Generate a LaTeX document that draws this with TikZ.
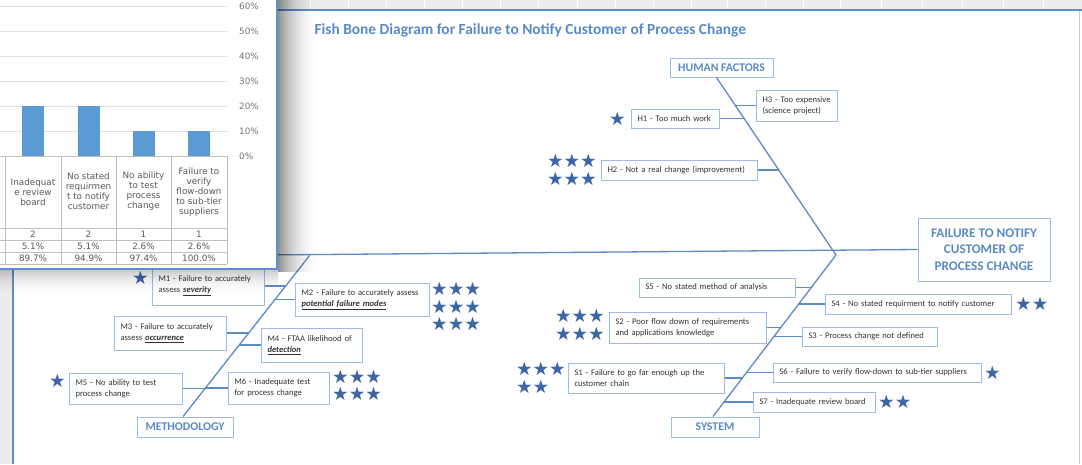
\documentclass[tikz,border=0pt]{standalone}
\usepackage{fontspec}
\setmainfont{Carlito}
\newfontfamily\chartfont{DejaVu Sans}
\newfontfamily\starfont{DejaVu Sans}
\usetikzlibrary{positioning}

\definecolor{boneblue}{HTML}{5B8BC9}
\definecolor{boxblue}{HTML}{9DBCE3}
\definecolor{labelblue}{HTML}{5A8AC6}
\definecolor{starblue}{HTML}{3D66A3}
\definecolor{txtgray}{HTML}{333333}
\definecolor{barblue}{HTML}{5B9BD5}
\definecolor{chartgray}{HTML}{595959}
\definecolor{sheetblue}{HTML}{5F8DCB}

\tikzstyle{cause} = [rectangle, draw=boxblue, line width=1pt, fill=white, inner xsep=6pt, inner ysep=2pt, align=left, text=txtgray, font=\fontsize{8.6}{11}\selectfont]
\tikzstyle{bonehead} = [rectangle, draw=boxblue, line width=1pt, fill=white, text=labelblue, font=\fontsize{11.8}{13}\selectfont\bfseries]
\tikzstyle{bone} = [draw=boneblue, line width=1.3pt]
\tikzstyle{twig} = [draw=boneblue, line width=1.1pt]
\tikzstyle{stars} = [inner sep=0pt, text=starblue, font=\starfont\fontsize{18.5}{17.5}\selectfont]
\tikzstyle{chartlbl} = [inner sep=0pt, text=chartgray, align=center, font=\chartfont\fontsize{8.8}{10}\selectfont]

\begin{document}
\begin{tikzpicture}[x=1pt, y=-1pt]
\useasboundingbox (0,0) rectangle (1082,464);
\fill[white] (0,0) rectangle (1082,464);

% Sheet frame
\fill[black!7] (278,0) rectangle (1082,9);
\foreach \x in {310,348,386,424,462,500,538,577,615,653,691,727,765,803,840,881,922,962,1003,1043}
  \draw[white, line width=0.8pt] (\x,0) -- (\x,8);
\draw[sheetblue, line width=2pt] (278,10) -- (1082,10);
\fill[black!8] (0,270) rectangle (13,464);
\draw[sheetblue, line width=1.5pt] (13,270) -- (13,464);
\draw[black!20, line width=0.8pt] (1079,11) -- (1079,464);

\node (title) [anchor=west, text=labelblue, font=\fontsize{15.4}{17}\selectfont\bfseries] at (311,30) {Fish Bone Diagram for Failure to Notify Customer of Process Change};

% Head and spine
\node (head) [bonehead, minimum width=132pt, minimum height=63pt, align=center, font=\fontsize{13.2}{16.5}\selectfont\bfseries] at (984,249.5) {FAILURE TO NOTIFY\\CUSTOMER OF\\PROCESS CHANGE};
\coordinate (joint) at (836,255);
\coordinate (mjoint) at (310,255);
\coordinate (spinetail) at (260,255);
\draw[bone] (spinetail) -- (head.west);

% Main bones
\node (human) [bonehead, minimum width=103pt, minimum height=19pt] at (721.5,67.5) {HUMAN FACTORS};
\node (method) [bonehead, minimum width=96pt, minimum height=20pt] at (185,427) {METHODOLOGY};
\node (system) [bonehead, minimum width=88pt, minimum height=20pt] at (715,427) {SYSTEM};

\draw[bone] ([xshift=-5pt]human.south) -- (joint)
  coordinate[pos=0.160] (hb3) coordinate[pos=0.233] (hb1) coordinate[pos=0.522] (hb2);
\draw[bone] ([xshift=-2pt]method.north) -- (mjoint)
  coordinate[pos=0.809] (mb1) coordinate[pos=0.725] (mb2) coordinate[pos=0.519] (mb3)
  coordinate[pos=0.444] (mb4) coordinate[pos=0.176] (mb5) coordinate[pos=0.179] (mb6);
\draw[bone] ([xshift=-2pt]system.north) -- (joint)
  coordinate[pos=0.799] (sb5) coordinate[pos=0.698] (sb4) coordinate[pos=0.552] (sb2)
  coordinate[pos=0.497] (sb3) coordinate[pos=0.241] (sb1) coordinate[pos=0.275] (sb6)
  coordinate[pos=0.093] (sb7);

% Human factors
\node (h1) [cause, text width=76pt, minimum height=19pt] at (675.5,118.5) {H1 - Too much work};
\node (h3) [cause, text width=69pt, minimum height=31pt] at (797,105.5) {H3 - Too expensive\\(science project)};
\node (h2) [cause, text width=144pt, minimum height=20pt] at (679.5,170) {H2 - Not a real change (improvement)};

% Methodology
\node (m1) [cause, text width=100pt, minimum height=38pt] at (208.5,286) {M1 - Failure to accurately\\assess \underline{\textbf{\textit{severity}}}};
\node (m2) [cause, text width=122pt, minimum height=33pt] at (362.5,299.5) {M2 - Failure to accurately assess\\\underline{\textbf{\textit{potential failure modes}}}};
\node (m3) [cause, text width=100pt, minimum height=34pt] at (170.5,333) {M3 - Failure to accurately\\assess \underline{\textbf{\textit{occurrence}}}};
\node (m4) [cause, text width=89pt, minimum height=34pt] at (312,345) {M4 - FTAA likelihood of\\\underline{\textbf{\textit{detection}}}};
\node (m5) [cause, text width=101pt, minimum height=31pt] at (126,388.5) {M5 - No ability to test\\process change};
\node (m6) [cause, text width=89pt, minimum height=32pt] at (279,388) {M6 - Inadequate test\\for process change};

% System
\node (s5) [cause, text width=144pt, minimum height=19pt] at (717.5,287.5) {S5 - No stated method of analysis};
\node (s4) [cause, text width=174pt, minimum height=20pt] at (918.5,304) {S4 - No stated requirment to notify customer};
\node (s2) [cause, text width=145pt, minimum height=31pt] at (688,327.5) {S2 - Poor flow down of requirements\\and applications knowledge};
\node (s3) [cause, text width=123pt, minimum height=19pt] at (870,336.5) {S3 - Process change not defined};
\node (s1) [cause, text width=144pt, minimum height=30pt] at (646.5,378) {S1 - Failure to go far enough up the\\customer chain};
\node (s6) [cause, text width=196pt, minimum height=19pt] at (877.5,372.5) {S6 - Failure to verify flow-down to sub-tier suppliers};
\node (s7) [cause, text width=110pt, minimum height=20pt] at (814.5,402) {S7 - Inadequate review board};

% Twigs onto the bones
\foreach \c/\s/\b in {h3/west/hb3, h1/east/hb1, h2/east/hb2,
    m1/east/mb1, m2/west/mb2, m3/east/mb3, m4/west/mb4, m5/east/mb5, m6/west/mb6,
    s5/east/sb5, s4/west/sb4, s2/east/sb2, s3/west/sb3, s1/east/sb1, s6/west/sb6, s7/west/sb7}
  \draw[twig] (\c.\s) -- (\c.\s -| \b);

% Votes
\node (h1stars) [stars, left=5pt of h1] {★};
\node (h2stars) [stars, left=4pt of h2, align=center] {★★★\\★★★};
\node (m1stars) [stars, left=3pt of m1, yshift=8pt] {★};
\node (m2stars) [stars, right=1pt of m2, yshift=-7pt, align=center] {★★★\\★★★\\★★★};
\node (m5stars) [stars, left=3pt of m5, yshift=7.5pt] {★};
\node (m6stars) [stars, right=2pt of m6, yshift=2.5pt, align=center] {★★★\\★★★};
\node (s4stars) [stars, right=3pt of s4] {★★};
\node (s2stars) [stars, left=4pt of s2, yshift=2.5pt, align=center] {★★★\\★★★};
\node (s1stars) [stars, left=2pt of s1, align=left] {★★★\\★★};
\node (s6stars) [stars, right=2pt of s6] {★};
\node (s7stars) [stars, right=2pt of s7] {★★};

% Pareto chart window
\foreach \i in {0,...,19} {
  \pgfmathsetmacro\op{0.42*(1-\i/20)^2}
  \fill[black, opacity=\op] ({278+2*\i},0) rectangle ++(2,272);
}
\foreach \i in {0,...,11} {
  \pgfmathsetmacro\op{0.2*(1-\i/12)^2}
  \fill[black, opacity=\op] (0,{270+2*\i}) rectangle (278,{272+2*\i});
}
\fill[white] (-5,-5) rectangle (277,269);
\foreach \y in {6,31,56,81,106,131}
  \draw[black!12, line width=0.6pt] (0,\y) -- (227,\y);
\foreach \p [count=\i] in {60,50,40,30,20,10,0}
  \node (pct\i) [chartlbl, anchor=west, text=black!55] at (239,{6+25*(\i-1)}) {\p\%};
\foreach \x/\t in {22/106, 78/106, 133/131, 188/131}
  \fill[barblue] (\x,\t) rectangle ++(21.5,{156-\t});
\foreach \x in {5,61,116,171,227}
  \draw[black!25, line width=0.6pt] (\x,156) -- (\x,264);
\foreach \y in {156,228,240,252,264}
  \draw[black!25, line width=0.6pt] (0,\y) -- (227,\y);
\node (cat1) [chartlbl] at (33,192) {Inadequat\\e review\\board};
\node (cat2) [chartlbl] at (88.5,191) {No stated\\requirmen\\t to notify\\customer};
\node (cat3) [chartlbl] at (143.5,191) {No ability\\to test\\process\\change};
\node (cat4) [chartlbl] at (199,192) {Failure to\\verify\\flow-down\\to sub-tier\\suppliers};
\foreach \x/\n/\p/\c [count=\i] in {33/2/5.1/89.7, 88.5/2/5.1/94.9, 143.5/1/2.6/97.4, 199/1/2.6/100.0} {
  \node (cnt\i) [chartlbl] at (\x,234) {\n};
  \node (pc\i) [chartlbl] at (\x,246) {\p\%};
  \node (cum\i) [chartlbl] at (\x,258) {\c\%};
}
\draw[sheetblue, line width=2pt] (277,-5) -- (277,269) -- (-5,269);

\end{tikzpicture}
\end{document}
